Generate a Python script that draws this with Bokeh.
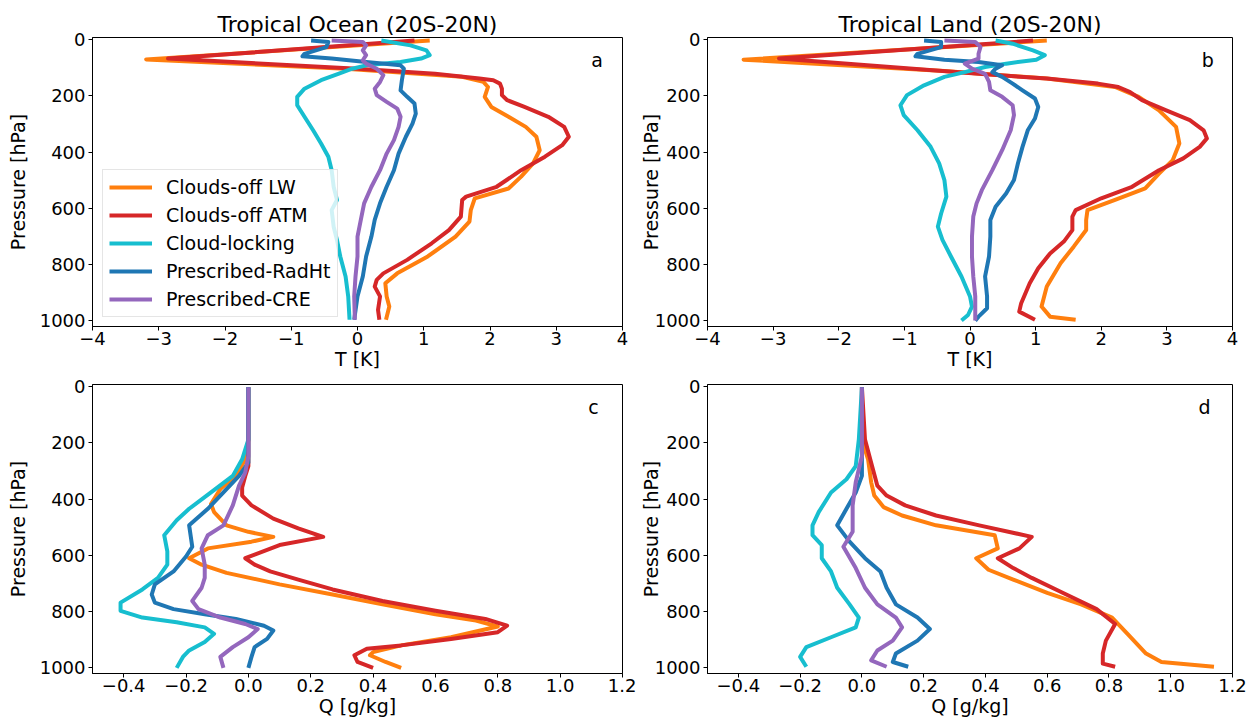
from bokeh.plotting import figure
from bokeh.layouts import row, column
from bokeh.models import Range1d, FixedTicker, CustomJSTickFormatter, Label, Legend, LegendItem
from bokeh.embed import file_html
from bokeh.resources import INLINE

FONT = "DejaVu Sans"

SERIES = ["Clouds-off LW", "Clouds-off ATM", "Cloud-locking", "Prescribed-RadHt", "Prescribed-CRE"]
COLORS = ["#ff7f0e", "#d62728", "#17becf", "#1f77b4", "#9467bd"]
TITLES = ["Tropical Ocean (20S-20N)", "Tropical Land (20S-20N)"]
PANEL_LETTERS = ["a", "b", "c", "d"]
P_TICKS = [0, 200, 400, 600, 800, 1000]
T_TICKS = [-4, -3, -2, -1, 0, 1, 2, 3, 4]
Q_TICKS = [-0.4, -0.2, 0, 0.2, 0.4, 0.6, 0.8, 1, 1.2]

# ---------------- Panel a: Tropical Ocean, T [K] ----------------
a_lw_p = [3, 70, 103, 132, 150, 168, 203, 239, 274, 310, 345, 393, 440, 487, 529, 564, 606, 647, 700, 771, 831, 866, 913, 949, 996]
a_lw_T = [1.09, -3.19, -0.18, 1.58, 1.90, 1.97, 1.92, 2.02, 2.28, 2.54, 2.70, 2.75, 2.65, 2.47, 2.28, 1.77, 1.71, 1.69, 1.48, 1.06, 0.60, 0.42, 0.44, 0.48, 0.43]
a_atm_p = [3, 67, 103, 121, 138, 144, 156, 174, 197, 215, 239, 274, 310, 345, 375, 416, 464, 523, 558, 570, 629, 677, 724, 783, 831, 854, 878, 913, 961, 996]
a_atm_T = [0.86, -2.86, 0.0, 1.17, 1.84, 2.05, 2.15, 2.18, 2.18, 2.26, 2.52, 2.88, 3.12, 3.19, 3.09, 2.83, 2.47, 2.10, 1.64, 1.58, 1.56, 1.38, 1.12, 0.75, 0.39, 0.29, 0.26, 0.34, 0.31, 0.33]
a_lock_p = [3, 20, 38, 55, 67, 79, 91, 103, 121, 144, 174, 203, 233, 274, 322, 369, 416, 464, 523, 570, 606, 665, 712, 771, 842, 913, 996]
a_lock_T = [0.36, 0.80, 1.04, 1.09, 0.96, 0.65, 0.13, -0.08, -0.29, -0.55, -0.80, -0.91, -0.91, -0.80, -0.67, -0.55, -0.44, -0.39, -0.36, -0.31, -0.39, -0.36, -0.31, -0.26, -0.18, -0.14, -0.12]
a_radht_p = [3, 8, 26, 50, 59, 67, 79, 91, 103, 144, 180, 203, 227, 263, 298, 345, 405, 464, 523, 582, 641, 700, 771, 842, 913, 996]
a_radht_T = [-0.70, -0.44, -0.47, -0.80, -0.83, -0.39, 0.13, 0.65, 0.70, 0.67, 0.65, 0.75, 0.86, 0.88, 0.83, 0.73, 0.62, 0.55, 0.44, 0.34, 0.26, 0.21, 0.13, 0.08, 0.00, -0.05]
a_cre_p = [3, 8, 20, 38, 55, 73, 85, 103, 126, 150, 174, 197, 221, 245, 274, 310, 357, 405, 464, 523, 582, 641, 700, 771, 842, 913, 996]
a_cre_T = [-0.39, 0.08, 0.13, 0.08, 0.13, 0.08, 0.13, 0.29, 0.39, 0.34, 0.26, 0.29, 0.44, 0.60, 0.65, 0.62, 0.55, 0.44, 0.34, 0.21, 0.10, 0.05, 0.00, 0.00, -0.03, -0.05, -0.04]

# ---------------- Panel b: Tropical Land, T [K] ----------------
b_lw_p = [3, 71, 111, 138, 168, 203, 251, 310, 369, 428, 476, 529, 570, 606, 641, 677, 736, 795, 878, 949, 985, 996]
b_lw_T = [1.17, -3.45, -0.39, 1.17, 2.21, 2.57, 2.88, 3.14, 3.19, 3.09, 2.88, 2.67, 2.21, 1.79, 1.77, 1.77, 1.58, 1.38, 1.17, 1.09, 1.22, 1.61]
b_atm_p = [3, 67, 121, 138, 156, 168, 186, 215, 251, 286, 322, 351, 381, 422, 464, 523, 564, 606, 629, 677, 718, 760, 813, 866, 937, 967, 996]
b_atm_T = [0.96, -2.91, 0.13, 1.17, 1.95, 2.26, 2.44, 2.62, 2.99, 3.35, 3.56, 3.61, 3.50, 3.25, 2.88, 2.47, 2.00, 1.61, 1.56, 1.56, 1.43, 1.22, 1.04, 0.91, 0.78, 0.75, 0.99]
b_lock_p = [3, 14, 38, 55, 71, 85, 97, 115, 132, 162, 197, 233, 268, 322, 381, 440, 499, 558, 618, 665, 712, 771, 842, 913, 949, 979, 999]
b_lock_T = [0.39, 0.65, 0.96, 1.14, 1.01, 0.55, 0.23, -0.08, -0.39, -0.70, -0.96, -1.06, -1.01, -0.80, -0.60, -0.47, -0.39, -0.36, -0.44, -0.49, -0.42, -0.29, -0.13, 0.00, 0.03, -0.03, -0.13]
b_radht_p = [3, 8, 26, 50, 59, 71, 79, 91, 103, 115, 132, 156, 180, 209, 239, 280, 322, 381, 440, 499, 547, 594, 641, 700, 771, 842, 913, 955, 985, 999]
b_radht_T = [-0.70, -0.44, -0.44, -0.80, -0.83, -0.39, 0.13, 0.49, 0.39, 0.34, 0.49, 0.65, 0.80, 0.99, 1.04, 0.99, 0.88, 0.80, 0.73, 0.67, 0.55, 0.39, 0.31, 0.31, 0.29, 0.23, 0.26, 0.26, 0.13, 0.08]
b_cre_p = [3, 8, 26, 50, 67, 85, 103, 121, 150, 180, 203, 233, 268, 322, 393, 464, 535, 582, 629, 700, 771, 842, 913, 961, 999]
b_cre_T = [-0.39, 0.08, 0.16, 0.13, 0.13, -0.08, 0.03, 0.23, 0.29, 0.31, 0.49, 0.65, 0.67, 0.62, 0.49, 0.34, 0.18, 0.10, 0.05, 0.03, 0.03, 0.05, 0.08, 0.08, 0.08]

# ---------------- Panel c: Tropical Ocean, Q [g/kg] ----------------
c_lw_p = [2, 188, 258, 317, 364, 417, 446, 493, 516, 534, 551, 575, 610, 633, 662, 703, 739, 774, 809, 832, 853, 891, 920, 944, 955, 979, 1000]
c_lw_Q = [0.0, 0.0, -0.01, -0.04, -0.09, -0.12, -0.11, -0.07, 0.0, 0.08, 0.01, -0.13, -0.19, -0.15, -0.07, 0.10, 0.27, 0.43, 0.60, 0.73, 0.80, 0.65, 0.49, 0.40, 0.39, 0.44, 0.49]
c_atm_p = [2, 188, 282, 317, 358, 387, 422, 469, 504, 534, 563, 610, 633, 657, 686, 721, 762, 797, 826, 850, 873, 897, 920, 932, 955, 979, 1000]
c_atm_Q = [0.0, 0.0, 0.0, -0.01, -0.02, -0.02, 0.01, 0.08, 0.16, 0.24, 0.10, -0.01, 0.02, 0.07, 0.16, 0.27, 0.43, 0.60, 0.76, 0.83, 0.80, 0.65, 0.49, 0.38, 0.34, 0.35, 0.40]
c_lock_p = [2, 188, 258, 317, 376, 434, 475, 528, 586, 633, 680, 721, 768, 797, 821, 838, 856, 879, 908, 938, 961, 1000]
c_lock_Q = [0.0, 0.0, -0.02, -0.05, -0.12, -0.19, -0.23, -0.27, -0.26, -0.26, -0.29, -0.34, -0.41, -0.41, -0.34, -0.23, -0.14, -0.11, -0.14, -0.19, -0.21, -0.23]
c_radht_p = [2, 188, 270, 317, 376, 434, 493, 569, 604, 657, 703, 739, 768, 791, 809, 826, 850, 867, 897, 926, 961, 1000]
c_radht_Q = [0.0, 0.0, 0.0, -0.03, -0.08, -0.13, -0.19, -0.18, -0.20, -0.24, -0.30, -0.31, -0.30, -0.24, -0.14, -0.04, 0.05, 0.08, 0.06, 0.02, 0.01, 0.0]
c_cre_p = [2, 247, 305, 352, 422, 493, 528, 575, 633, 680, 715, 762, 791, 821, 844, 862, 891, 926, 961, 1000]
c_cre_Q = [0.0, 0.0, -0.01, -0.03, -0.05, -0.08, -0.13, -0.15, -0.14, -0.14, -0.15, -0.18, -0.16, -0.09, -0.01, 0.03, 0.0, -0.05, -0.09, -0.08]

# ---------------- Panel d: Tropical Land, Q [g/kg] ----------------
d_lw_p = [2, 188, 258, 340, 387, 428, 458, 493, 528, 575, 610, 651, 686, 733, 774, 821, 879, 949, 979, 996]
d_lw_Q = [0.0, 0.0, 0.02, 0.03, 0.04, 0.07, 0.13, 0.24, 0.43, 0.44, 0.37, 0.41, 0.49, 0.60, 0.71, 0.81, 0.86, 0.92, 0.97, 1.14]
d_atm_p = [2, 188, 270, 352, 387, 422, 458, 493, 534, 575, 610, 645, 680, 733, 791, 844, 903, 949, 985, 996]
d_atm_Q = [0.0, 0.01, 0.03, 0.05, 0.08, 0.14, 0.24, 0.38, 0.55, 0.51, 0.44, 0.49, 0.55, 0.65, 0.76, 0.82, 0.79, 0.78, 0.78, 0.82]
d_lock_p = [2, 188, 282, 329, 376, 446, 493, 528, 563, 610, 657, 715, 774, 821, 856, 891, 926, 961, 996]
d_lock_Q = [0.0, -0.01, -0.02, -0.05, -0.10, -0.14, -0.16, -0.16, -0.13, -0.13, -0.10, -0.08, -0.04, -0.01, -0.02, -0.10, -0.18, -0.20, -0.18]
d_radht_p = [2, 188, 317, 376, 434, 493, 551, 610, 657, 715, 774, 821, 862, 903, 949, 979, 996]
d_radht_Q = [0.0, 0.0, 0.0, -0.02, -0.05, -0.08, -0.04, 0.01, 0.06, 0.08, 0.11, 0.18, 0.22, 0.18, 0.11, 0.10, 0.15]
d_cre_p = [2, 247, 340, 422, 516, 569, 645, 715, 774, 821, 856, 903, 938, 973, 996]
d_cre_Q = [0.0, 0.0, -0.02, -0.03, -0.03, -0.06, -0.02, 0.01, 0.05, 0.11, 0.13, 0.10, 0.05, 0.03, 0.08]

PANELS = [
    [(a_lw_T, a_lw_p), (a_atm_T, a_atm_p), (a_lock_T, a_lock_p), (a_radht_T, a_radht_p), (a_cre_T, a_cre_p)],
    [(b_lw_T, b_lw_p), (b_atm_T, b_atm_p), (b_lock_T, b_lock_p), (b_radht_T, b_radht_p), (b_cre_T, b_cre_p)],
    [(c_lw_Q, c_lw_p), (c_atm_Q, c_atm_p), (c_lock_Q, c_lock_p), (c_radht_Q, c_radht_p), (c_cre_Q, c_cre_p)],
    [(d_lw_Q, d_lw_p), (d_atm_Q, d_atm_p), (d_lock_Q, d_lock_p), (d_radht_Q, d_radht_p), (d_cre_Q, d_cre_p)],
]


def make_panel(idx, width, height, borders, xr, xticks, decimals, xlabel, ylabel_standoff, letter_x, title=None):
    left, right, top, bottom = borders
    kw = dict(width=width, height=height, x_range=Range1d(*xr), y_range=Range1d(1020, -8),
              output_backend="svg", toolbar_location=None,
              min_border_left=left, min_border_right=right, min_border_top=top, min_border_bottom=bottom,
              background_fill_color="white", border_fill_color="white")
    if title is not None:
        kw["title"] = title
    p = figure(**kw)
    if title is not None:
        p.title.text_font = FONT
        p.title.text_font_size = "22px"
        p.title.text_font_style = "normal"
        p.title.text_color = "black"
        p.title.align = "center"
        p.title.standoff = 2
    p.xgrid.visible = False
    p.ygrid.visible = False
    p.outline_line_color = "black"
    p.outline_line_width = 1
    p.outline_line_alpha = 1

    p.xaxis.ticker = FixedTicker(ticks=xticks)
    p.yaxis.ticker = FixedTicker(ticks=P_TICKS)
    p.xaxis.formatter = CustomJSTickFormatter(
        code="return (tick < 0 ? '\u2212' : '') + Math.abs(tick).toFixed(%d);" % decimals)
    p.xaxis.axis_label = xlabel
    p.yaxis.axis_label = "Pressure [hPa]"
    for ax in (p.xaxis[0], p.yaxis[0]):
        ax.major_label_text_font = FONT
        ax.major_label_text_font_size = "18px"
        ax.major_label_text_color = "black"
        ax.axis_label_text_font = FONT
        ax.axis_label_text_font_size = "19px"
        ax.axis_label_text_font_style = "normal"
        ax.axis_label_text_color = "black"
        ax.axis_line_color = "black"
        ax.major_tick_line_color = "black"
        ax.major_tick_in = 0
        ax.major_tick_out = 4
        ax.minor_tick_line_color = None
    p.xaxis.major_label_standoff = 1
    p.xaxis.axis_label_standoff = 0
    p.yaxis.major_label_standoff = 3
    p.yaxis.axis_label_standoff = ylabel_standoff

    renderers = []
    for (xs, ps), color in zip(PANELS[idx], COLORS):
        r = p.line(xs, ps, line_color=color, line_width=4, line_join="round")
        renderers.append(r)

    p.add_layout(Label(x=letter_x, y=73, text=PANEL_LETTERS[idx], text_font=FONT,
                       text_font_size="19px", text_color="black",
                       text_align="left", text_baseline="alphabetic"))
    return p, renderers


fa, ra = make_panel(0, 636, 377, (92, 14, 37, 51), (-4, 4), T_TICKS, 0, "T [K]", 8, 3.53, TITLES[0])
fb, rb = make_panel(1, 614, 377, (66, 18, 37, 51), (-4, 4), T_TICKS, 0, "T [K]", -10, 3.53, TITLES[1])
fc, rc = make_panel(2, 636, 346, (92, 14, 7, 50), (-0.5, 1.2), Q_TICKS, 1, "Q [g/kg]", 8, 1.09)
fd, rd = make_panel(3, 614, 346, (66, 18, 7, 50), (-0.5, 1.2), Q_TICKS, 1, "Q [g/kg]", -10, 1.09)

legend = Legend(items=[LegendItem(label=s, renderers=[r]) for s, r in zip(SERIES, ra)],
                location=(10, 9), margin=0, padding=6, spacing=6,
                label_height=22, glyph_height=22, glyph_width=43, label_standoff=14,
                label_text_font=FONT, label_text_font_size="19px", label_text_color="black",
                border_line_color="#cccccc", border_line_width=1,
                background_fill_color="white", background_fill_alpha=0.8)
fa.add_layout(legend)

layout = column(row(fa, fb), row(fc, fd))

with open("out.html", "w") as f:
    f.write(file_html(layout, INLINE))
